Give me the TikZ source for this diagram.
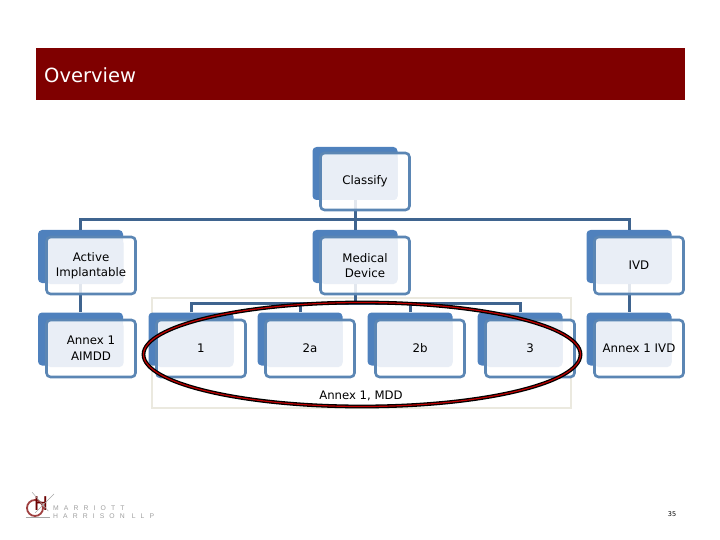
\documentclass[tikz,border=0pt]{standalone}
\usepackage{fontspec}
\setmainfont{DejaVu Sans}
\newfontfamily\logofont[LetterSpace=75]{Liberation Sans}
\usetikzlibrary{shapes.geometric}
\definecolor{bannerred}{HTML}{7F0000}
\definecolor{cardblue}{HTML}{4F81BD}
\definecolor{cardedge}{HTML}{5B86B4}
\definecolor{cardpale}{HTML}{E9EEF6}
\definecolor{linkblue}{HTML}{3F648F}
\definecolor{framegrey}{HTML}{EBE9DF}
\tikzset{
    cardback/.style={rounded corners=4pt, fill=cardblue, minimum width=85pt, minimum height=53pt, inner sep=0pt},
    cardfront/.style={rounded corners=4pt, draw=cardedge, line width=2.6pt, fill=white, fill opacity=0.85, text opacity=1,
        minimum width=89pt, minimum height=57pt, inner sep=0pt, align=center, font=\fontsize{11.8}{16}\selectfont,
        path picture={\fill[cardpale, fill opacity=1, rounded corners=4pt]
            ([shift={(0pt,-2pt)}]path picture bounding box.north west) rectangle
            ([shift={(-12pt,10pt)}]path picture bounding box.south east);}},
    link/.style={linkblue, line width=3pt}
}
\begin{document}
\begin{tikzpicture}[x=1pt, y=-1pt]
    \useasboundingbox (0, 0) rectangle (720, 540);

    \node[fill=bannerred, minimum width=649pt, minimum height=52pt, inner sep=0pt] (banner) at (360.5, 74) {};
    \node[text=white, anchor=west, inner sep=0pt, font=\fontsize{19.5}{22}\selectfont] (title) at (44, 75) {Overview};

    \node[draw=framegrey, line width=1.6pt, minimum width=419pt, minimum height=110pt, inner sep=0pt] (frame) at (361.5, 353) {};

    % back plates first, links go over them
    \node[cardback] (classifyb) at (355, 173.5) {};
    \node[cardback] (activeb) at (80.5, 256.5) {};
    \node[cardback] (medicalb) at (355, 256.5) {};
    \node[cardback] (ivdb) at (629, 256.5) {};
    \node[cardback] (aimddb) at (80.5, 339) {};
    \node[cardback] (oneb) at (191, 339) {};
    \node[cardback] (twoab) at (300, 339) {};
    \node[cardback] (twobb) at (410, 339) {};
    \node[cardback] (threeb) at (520, 339) {};
    \node[cardback] (annexb) at (629, 339) {};

    \coordinate (topbar) at (355, 220);
    \coordinate (lowbar) at (355, 303);

    \draw[link] (classifyb.south) -- (topbar);
    \draw[link] (activeb.north) |- (topbar) -| (ivdb.north);
    \draw[link] (topbar) -- (medicalb.north);
    \draw[link] (activeb.south) -- (aimddb.north);
    \draw[link] (ivdb.south) -- (annexb.north);
    \draw[link] (medicalb.south) -- (lowbar);
    \draw[link] (oneb.north) |- (lowbar) -| (threeb.north);
    \draw[link] (twoab.north) -- (twoab.north |- lowbar);
    \draw[link] (twobb.north) -- (twobb.north |- lowbar);

    \node[cardfront] (classify) at (365, 181.5) {\raisebox{-1.5pt}{Classify}};
    \node[cardfront] (active) at (91, 265.5) {\raisebox{-1pt}{Active}\\Implantable};
    \node[cardfront] (medical) at (365, 265.5) {\raisebox{-1pt}{Medical}\\Device};
    \node[cardfront] (ivd) at (639, 265.5) {IVD};
    \node[cardfront] (aimdd) at (91, 348.5) {Annex 1\\AIMDD};
    \node[cardfront] (one) at (201, 348.5) {1};
    \node[cardfront] (twoa) at (310, 348.5) {2a};
    \node[cardfront] (twob) at (420, 348.5) {2b};
    \node[cardfront] (three) at (530, 348.5) {3};
    \node[cardfront] (annex) at (639, 348.5) {Annex 1 IVD};

    \node[ellipse, draw=black, double=red!75!black, line width=1.3pt, double distance=1.2pt,
        minimum width=437pt, minimum height=104pt, inner sep=0pt] (oval) at (362, 354.5) {};
    \node[font=\fontsize{11.7}{14}\selectfont] (mdd) at (361, 395.5) {Annex 1, MDD};

    % logo
    \node[circle, draw=bannerred!75, line width=1.8pt, minimum size=16pt, inner sep=0pt] (seal) at (35, 508) {};
    \node[text=bannerred!85!black, font=\fontsize{19}{19}\selectfont, inner sep=0pt] (mark) at (41, 504) {H};
    \draw[gray!70, line width=0.5pt] (seal.north) ++(-3, -7) -- (mark.south east);
    \draw[gray!70, line width=0.5pt] (seal.south) ++(0, -4) -- ++(19, -19);
    \draw[gray!70, line width=0.5pt] (seal.south west) ++(-3, 3) -- ++(24, 0);
    \node[text=gray!75, anchor=west, inner sep=0pt, font=\logofont\fontsize{6.8}{8}\selectfont] (logoa) at (53, 508) {MARRIOTT};
    \node[text=gray!75, anchor=west, inner sep=0pt, font=\logofont\fontsize{6.8}{8}\selectfont] (logob) at (53, 516) {HARRISON LLP};

    \node[font=\fontsize{6.5}{8}\selectfont, inner sep=0pt] (page) at (672, 514) {35};
\end{tikzpicture}
\end{document}
